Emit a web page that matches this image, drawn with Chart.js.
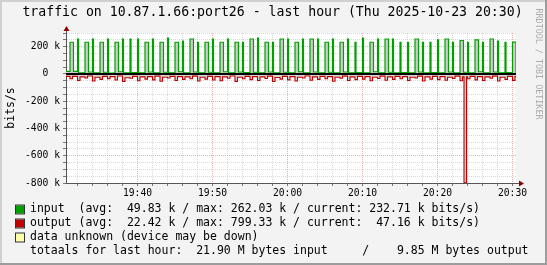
<!DOCTYPE html>
<html>
<head>
<meta charset="utf-8">
<script src="https://cdn.jsdelivr.net/npm/chart.js@4.4.1/dist/chart.umd.min.js"></script>
<style>
  html, body { margin: 0; padding: 0; background: #f3f3f3; }
</style>
</head>
<body>
<canvas id="chart" width="547" height="265"></canvas>
<script>
// graph window: 19:30:28 .. 20:30:28, one traffic burst every minute
const T0 = 70228;
const SPAN = 3600;
const SPIKE_OFFSET = 32;

const majorTimes = ['19:40', '19:50', '20:00', '20:10', '20:20', '20:30'];
const yMajor = [200, 0, -200, -400, -600, -800];

// input (k bits/s): peak of each minute's burst, wide/narrow burst, level after it
const inPeak = [232,256,232,256,232,256,232,256,256,256, 232,256,232,262,232,240,256,232,232,256,
                232,256,232,232,256,262,232,232,256,256, 232,256,256,256,232,256,232,256,232,262,
                232,256,256,256,232,232,256,232,232,250, 256,232,245,232,250,232,256,240,232,232.71];
const inWide = [1,0,1,0,1,0,1,0,0,0, 1,0,1,0,1,0,1,0,1,0, 1,0,1,0,1,0,1,0,1,0,
                1,0,1,0,1,0,1,0,0,0, 1,0,1,0,0,0,1,0,0,0, 1,0,1,0,1,0,1,0,0,1];
const inBase = [18,8,14,8,12,6,16,8,10,8, 14,8,12,8,16,8,14,8,12,8, 16,8,14,10,12,8,14,8,12,8,
                16,8,14,8,12,8,14,8,10,8, 16,8,12,8,10,8,14,8,10,8, 14,8,12,8,16,8,14,8,10,8];

// output (k bits/s, drawn below zero): dip during the burst, level after it
const outDip = [35,48,30,52,40,36,45,55,32,50, 38,44,54,30,48,40,35,52,38,45,
                50,32,55,36,42,48,34,56,38,44, 52,30,46,40,36,54,32,48,42,38,
                50,34,46,40,36,48,30,52,38,42, 47,34,50,36,44,48,32,52,40,47.16];
const outBase = [18,22,15,25,18,20,15,28,18,22, 20,16,24,18,20,22,16,25,18,20,
                 22,15,24,18,20,22,16,26,18,20, 24,15,22,18,20,25,16,22,18,20,
                 24,16,22,18,20,25,16,22,18,20, 24,16,22,18,20,22,16,25,18,20];
const outBurstAt = [3184];
const outBurstValue = [799.33];

const inputStats = ['49.83', '262.03', '232.71'];
const outputStats = ['22.42', '799.33', '47.16'];
const totals = ['21.90', '9.85'];

const FONT = '"DejaVu Sans Mono", monospace';

function toSec(hhmm) {
  const [h, m] = hhmm.split(':').map(Number);
  return h * 3600 + m * 60;
}
function fmtTime(sec) {
  const h = Math.floor(sec / 3600), m = Math.floor((sec % 3600) / 60);
  return String(h).padStart(2, '0') + ':' + String(m).padStart(2, '0');
}

const inputPts = [{x: T0, y: inBase[0]}];
const outputPts = [{x: T0, y: -outBase[0]}];
for (let i = 0; i < inPeak.length; i++) {
  const s = T0 + SPIKE_OFFSET + i * 60;
  inputPts.push({x: s, y: inPeak[i]}, {x: s + (inWide[i] ? 28 : 8), y: inBase[i]});
  outputPts.push({x: s, y: -outDip[i]}, {x: s + 20, y: -outBase[i]});
}
outBurstAt.forEach((t, k) => {
  const i = Math.floor((t - SPIKE_OFFSET) / 60);
  outputPts.push({x: T0 + t, y: -outBurstValue[k]}, {x: T0 + t + 20, y: -outBase[i]});
});
outputPts.sort((a, b) => a.x - b.x);
inputPts.push({x: T0 + SPAN, y: inputPts[inputPts.length - 1].y});
outputPts.push({x: T0 + SPAN, y: outputPts[outputPts.length - 1].y});

const majorSecs = majorTimes.map(toSec);
const xTicks = [];
for (let v = Math.ceil(T0 / 120) * 120; v <= T0 + SPAN; v += 120) xTicks.push(v);

const rrdLook = {
  id: 'rrdLook',
  beforeDraw(chart) {
    const {ctx, chartArea: a} = chart;
    ctx.save();
    ctx.fillStyle = '#f3f3f3';
    ctx.fillRect(0, 0, 547, 265);
    ctx.fillStyle = '#d0d0d0';
    ctx.fillRect(0, 0, 547, 2);
    ctx.fillRect(0, 0, 2, 265);
    ctx.fillStyle = '#9c9c9c';
    ctx.fillRect(545, 0, 2, 265);
    ctx.fillRect(0, 263, 547, 2);
    ctx.fillStyle = '#ffffff';
    ctx.fillRect(a.left, a.top, a.right - a.left, a.bottom - a.top);
    ctx.restore();
  },
  afterDatasetsDraw(chart) {
    const {ctx, chartArea: a, scales} = chart;
    const y0 = Math.round(scales.y.getPixelForValue(0));
    ctx.save();
    ctx.fillStyle = '#000';
    ctx.fillRect(a.left, y0 - 1, a.right - a.left, 2);
    // axis arrows
    ctx.strokeStyle = '#555';
    ctx.lineWidth = 1;
    ctx.beginPath();
    ctx.moveTo(a.left + 0.5, a.top);
    ctx.lineTo(a.left + 0.5, a.top - 3);
    ctx.moveTo(a.right, a.bottom + 0.5);
    ctx.lineTo(a.right + 3, a.bottom + 0.5);
    ctx.stroke();
    ctx.fillStyle = '#8b0000';
    ctx.beginPath();
    ctx.moveTo(a.left + 0.5, a.top - 7);
    ctx.lineTo(a.left - 2.5, a.top - 2);
    ctx.lineTo(a.left + 3.5, a.top - 2);
    ctx.closePath();
    ctx.fill();
    ctx.beginPath();
    ctx.moveTo(a.right + 8, a.bottom + 0.5);
    ctx.lineTo(a.right + 3, a.bottom - 2.5);
    ctx.lineTo(a.right + 3, a.bottom + 3.5);
    ctx.closePath();
    ctx.fill();
    ctx.restore();
  },
  afterDraw(chart) {
    const ctx = chart.ctx;
    ctx.save();
    ctx.fillStyle = '#000';
    ctx.textBaseline = 'middle';
    ctx.textAlign = 'center';
    ctx.font = '13.2px ' + FONT;
    ctx.fillText('traffic on 10.87.1.66:port26 - last hour (Thu 2025-10-23 20:30)', 272.5, 13);

    ctx.textAlign = 'left';
    ctx.font = '11.5px ' + FONT;
    const lines = [
      ['#00a000', 'input  (avg:  ' + inputStats[0] + ' k / max: ' + inputStats[1] + ' k / current: ' + inputStats[2] + ' k bits/s)'],
      ['#c00000', 'output (avg:  ' + outputStats[0] + ' k / max: ' + outputStats[1] + ' k / current:  ' + outputStats[2] + ' k bits/s)'],
      ['#ffffa8', 'data unknown (device may be down)'],
      [null, 'totaals for last hour:  ' + totals[0] + ' M bytes input     /    ' + totals[1] + ' M bytes output']
    ];
    const ys = [209.5, 223.5, 237.5, 251.5];
    lines.forEach(([col, txt], i) => {
      if (col) {
        ctx.fillStyle = col;
        ctx.fillRect(16, ys[i] - 4, 8, 8);
        ctx.strokeStyle = '#333';
        ctx.lineWidth = 1;
        ctx.strokeRect(15.5, ys[i] - 4.5, 9, 9);
      }
      ctx.fillStyle = '#000';
      ctx.fillText(txt, 30, ys[i]);
    });

    ctx.translate(538, 64);
    ctx.rotate(Math.PI / 2);
    ctx.textAlign = 'center';
    ctx.fillStyle = '#aaaaaa';
    ctx.font = '8.4px ' + FONT;
    ctx.fillText('RRDTOOL / TOBI OETIKER', 0, 0);
    ctx.restore();
  }
};

const dotted = [1, 1];
const majorGrid = 'rgba(225,110,110,0.55)';
const minorGrid = 'rgba(170,170,170,0.45)';

new Chart(document.getElementById('chart'), {
  type: 'line',
  data: {
    datasets: [
      {
        label: 'input',
        data: inputPts,
        borderColor: '#00a000',
        backgroundColor: '#cccccc',
        borderWidth: 1.2,
        stepped: true,
        fill: 'origin',
        pointRadius: 0
      },
      {
        label: 'output',
        data: outputPts,
        borderColor: '#c00000',
        backgroundColor: '#d4d4d4',
        borderWidth: 1.1,
        stepped: true,
        fill: 'origin',
        pointRadius: 0
      }
    ]
  },
  options: {
    responsive: false,
    animation: false,
    layout: { padding: { left: 0, right: 31, top: 33, bottom: 0 } },
    plugins: { legend: { display: false }, tooltip: { enabled: false } },
    scales: {
      x: {
        type: 'linear',
        min: T0,
        max: T0 + SPAN,
        afterBuildTicks: (s) => { s.ticks = xTicks.map(v => ({value: v})); },
        afterFit: (s) => { s.height = 82; },
        ticks: {
          autoSkip: false,
          maxRotation: 0,
          padding: 2,
          color: '#000',
          font: { family: FONT, size: 9.7 },
          callback: (v) => majorSecs.includes(v) ? fmtTime(v) : ''
        },
        grid: {
          color: (c) => majorSecs.includes(c.tick && c.tick.value) ? majorGrid : minorGrid,
          tickColor: '#777',
          tickLength: 3,
          lineWidth: 1
        },
        border: { display: true, color: '#555', width: 1, dash: dotted }
      },
      y: {
        min: -800,
        max: 300,
        afterBuildTicks: (s) => {
          const t = [];
          for (let v = -800; v <= 300; v += 50) t.push({value: v});
          s.ticks = t;
        },
        afterFit: (s) => { s.width = 66; },
        ticks: {
          autoSkip: false,
          padding: 3,
          color: '#000',
          font: { family: FONT, size: 9.7 },
          callback: (v) => yMajor.includes(v) ? (v === 0 ? '0  ' : v + ' k') : ''
        },
        grid: {
          color: (c) => yMajor.includes(c.tick && c.tick.value) ? majorGrid : minorGrid,
          tickColor: '#777',
          tickLength: 3,
          lineWidth: 1
        },
        border: { display: true, color: '#555', width: 1, dash: dotted },
        title: {
          display: true,
          text: 'bits/s',
          color: '#000',
          font: { family: FONT, size: 11.5 },
          padding: { top: 4, bottom: 0 }
        }
      }
    }
  },
  plugins: [rrdLook]
});
</script>
</body>
</html>
